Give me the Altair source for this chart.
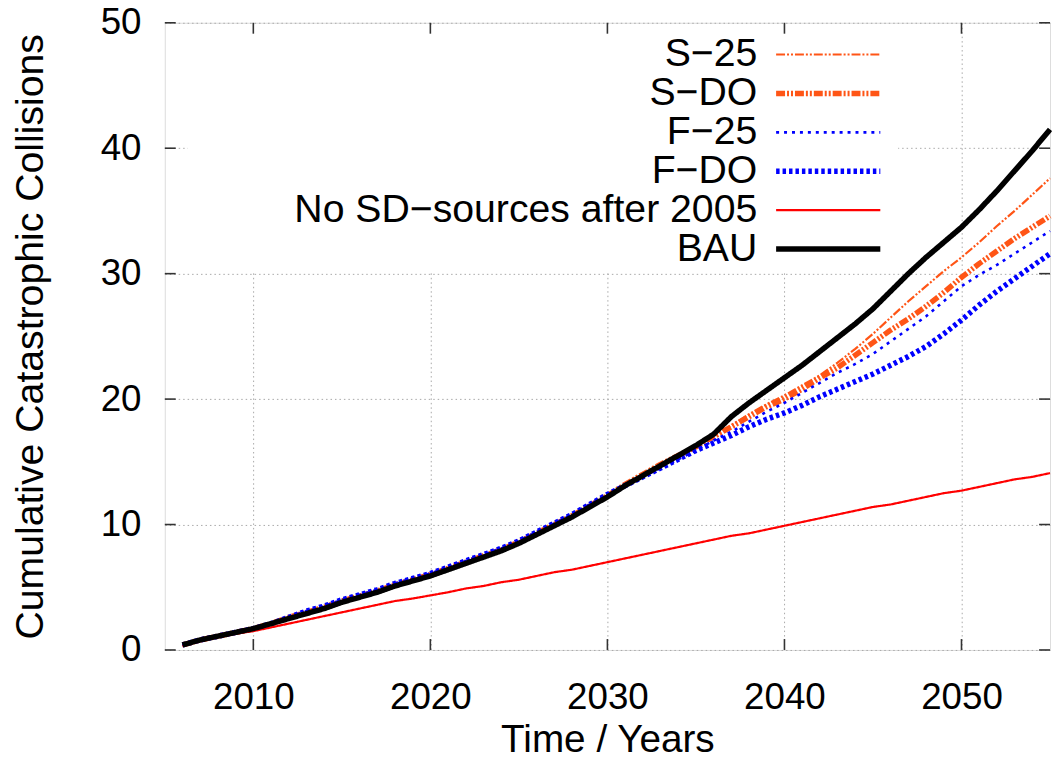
import altair as alt
import pandas as pd

FONT = "Liberation Sans"

years = list(range(2006, 2056))

series_names = ["S−25", "S−DO", "F−25", "F−DO", "No SD−sources after 2005", "BAU"]
series_colors = ["#ff5516", "#ff5516", "#0000ff", "#0000ff", "#ff0000", "#000000"]
series_dashes = [[9, 2, 2, 2, 2, 2], [9, 2, 2, 2, 2, 2], [3, 5], [3.5, 3], [1, 0], [1, 0]]
series_widths = [2.2, 5.5, 2.6, 5.5, 2.2, 5.5]

s25 = [0.4, 0.8, 1.1, 1.4, 1.7, 2.1, 2.6, 3.0, 3.4, 3.9, 4.3, 4.7, 5.2, 5.6, 6.0,
       6.5, 7.0, 7.5, 8.0, 8.6, 9.3, 10.0, 10.7, 11.5, 12.3,
       13.2, 14.0, 14.8, 15.6, 16.3, 17.0, 17.9, 18.8, 19.6, 20.3,
       21.1, 21.9, 22.9, 24.0, 25.2, 26.5, 27.8, 29.0, 30.2, 31.3,
       32.5, 33.8, 35.0, 36.3, 37.6]
sdo = [0.4, 0.8, 1.1, 1.4, 1.7, 2.1, 2.6, 3.0, 3.4, 3.9, 4.3, 4.7, 5.2, 5.6, 6.0,
       6.5, 7.0, 7.5, 8.0, 8.6, 9.3, 10.0, 10.7, 11.5, 12.3,
       13.2, 14.0, 14.8, 15.5, 16.2, 17.0, 17.8, 18.6, 19.4, 20.0,
       20.8, 21.7, 22.5, 23.5, 24.5, 25.5, 26.4, 27.4, 28.5, 29.7,
       30.8, 31.8, 32.8, 33.7, 34.6]
f25 = [0.4, 0.8, 1.1, 1.4, 1.7, 2.1, 2.6, 3.1, 3.5, 4.0, 4.4, 4.8, 5.3, 5.7, 6.1,
       6.6, 7.1, 7.6, 8.1, 8.7, 9.4, 10.1, 10.8, 11.6, 12.4,
       13.1, 13.8, 14.5, 15.2, 15.9, 16.7, 17.4, 18.2, 19.0, 19.7,
       20.5, 21.3, 22.1, 22.8, 23.6, 24.6, 25.6, 26.6, 27.8, 29.0,
       29.9, 30.7, 31.6, 32.5, 33.4]
fdo = [0.4, 0.8, 1.1, 1.4, 1.7, 2.1, 2.6, 3.1, 3.5, 4.0, 4.4, 4.8, 5.3, 5.7, 6.1,
       6.6, 7.1, 7.6, 8.1, 8.7, 9.4, 10.1, 10.8, 11.6, 12.4,
       13.1, 13.8, 14.5, 15.2, 15.9, 16.5, 17.1, 17.8, 18.4, 18.9,
       19.5, 20.2, 20.8, 21.4, 22.0, 22.7, 23.4, 24.2, 25.2, 26.3,
       27.5, 28.6, 29.6, 30.6, 31.6]
nosd = [0.3, 0.7, 1.0, 1.3, 1.5, 1.8, 2.1, 2.4, 2.7, 3.0, 3.3, 3.6, 3.9, 4.1, 4.35,
        4.6, 4.9, 5.1, 5.4, 5.6, 5.9, 6.2, 6.4, 6.7, 7.0,
        7.3, 7.6, 7.9, 8.2, 8.5, 8.8, 9.1, 9.3, 9.6, 9.9,
        10.2, 10.5, 10.8, 11.1, 11.4, 11.6, 11.9, 12.2, 12.5, 12.7,
        13.0, 13.3, 13.6, 13.8, 14.1]
bau = [0.4, 0.8, 1.1, 1.4, 1.7, 2.1, 2.5, 2.9, 3.3, 3.8, 4.2, 4.6, 5.1, 5.5, 5.9,
       6.4, 6.9, 7.4, 7.9, 8.5, 9.2, 9.9, 10.6, 11.4, 12.2,
       13.1, 13.9, 14.7, 15.5, 16.3, 17.2, 18.6, 19.7, 20.7, 21.7,
       22.7, 23.8, 24.9, 26.0, 27.2, 28.6, 30.0, 31.3, 32.5, 33.7,
       35.1, 36.6, 38.2, 39.8, 41.5]

x_ticks = [2010, 2020, 2030, 2040, 2050]
y_ticks = [0, 10, 20, 30, 40, 50]

rows = []
for name, vals in zip(series_names, [s25, sdo, f25, fdo, nosd, bau]):
    for yr, v in zip(years, vals):
        rows.append({"year": yr, "value": v, "series": name})
df = pd.DataFrame(rows)

W, H = 892, 632
TICK = 11

xscale = alt.Scale(domain=[2005, 2055], nice=False, zero=False)
yscale = alt.Scale(domain=[0, 50], nice=False)
xaxis = alt.Axis(values=x_ticks, title="Time / Years", format="d",
                 grid=True, gridDash=[1.5, 3], gridColor="#a8a8a8", gridWidth=1,
                 ticks=False, tickSize=0, domain=False, labelPadding=30,
                 labelFont=FONT, labelFontSize=37, labelColor="#000",
                 titleFont=FONT, titleFontSize=39, titleFontWeight="normal",
                 titleColor="#000", titleBaseline="alphabetic", titleY=102)
yaxis = alt.Axis(values=y_ticks, title="Cumulative Catastrophic Collisions",
                 grid=True, gridDash=[1.5, 3], gridColor="#a8a8a8", gridWidth=1,
                 ticks=False, tickSize=0, domain=False, labelPadding=24,
                 labelFont=FONT, labelFontSize=37, labelColor="#000",
                 titleFont=FONT, titleFontSize=39.5, titleFontWeight="normal",
                 titleColor="#000", titleBaseline="alphabetic", titleX=-123)

X = alt.X("year:Q", scale=xscale, axis=xaxis)
Y = alt.Y("value:Q", scale=yscale, axis=yaxis)

# white legend box (covers grid like gnuplot's opaque key)
box = alt.Chart(pd.DataFrame({"k": [0]})).mark_rect(fill="white").encode(
    x=alt.value(23), x2=alt.value(739), y=alt.value(2), y2=alt.value(251))

line_layers = []
for name, c, d, w in zip(series_names, series_colors, series_dashes, series_widths):
    line_layers.append(
        alt.Chart(df).transform_filter(alt.datum.series == name)
        .mark_line(strokeCap="butt", strokeJoin="round", color=c, strokeDash=d, strokeWidth=w)
        .encode(x=X, y=Y)
    )

xt = pd.DataFrame({"year": x_ticks})
yt = pd.DataFrame({"value": y_ticks})
tick_style = dict(color="#333", strokeWidth=1.6)
bottom_ticks = alt.Chart(xt).mark_rule(**tick_style).encode(x=X, y=alt.value(H), y2=alt.value(H - TICK))
top_ticks = alt.Chart(xt).mark_rule(**tick_style).encode(x=X, y=alt.value(0), y2=alt.value(TICK))
left_ticks = alt.Chart(yt).mark_rule(**tick_style).encode(y=Y, x=alt.value(0), x2=alt.value(TICK))
right_ticks = alt.Chart(yt).mark_rule(**tick_style).encode(y=Y, x=alt.value(W), x2=alt.value(W - TICK))

main = alt.layer(box, *line_layers, bottom_ticks, top_ticks, left_ticks, right_ticks)

leg_df = pd.DataFrame({"series": series_names, "rank": list(range(len(series_names)))})
LY = alt.Y("rank:Q", scale=alt.Scale(domain=[0, 5], range=[32, 228]), axis=None)
leg_layers = []
for name, c, d, w in zip(series_names, series_colors, series_dashes, series_widths):
    leg_layers.append(
        alt.Chart(leg_df).transform_filter(alt.datum.series == name)
        .mark_rule(strokeCap="butt", color=c, strokeDash=d, strokeWidth=w)
        .encode(x=alt.value(616), x2=alt.value(721), y=LY)
    )
leg_text = alt.Chart(leg_df).mark_text(align="right", baseline="middle", font=FONT,
                                       fontSize=39.5, color="#000").encode(
    x=alt.value(597), y=LY, text="series:N")
legend = alt.layer(*leg_layers, leg_text)

chart = alt.layer(main, legend).resolve_scale(y="independent").properties(
    width=W, height=H,
    autosize=alt.AutoSizeParams(type="none"),
    padding={"left": 158, "top": 12, "right": 2, "bottom": 110},
).configure_view(stroke="#333", strokeWidth=2).configure(background="white")

chart.save("out.html", embed_options={"renderer": "svg", "actions": False})
